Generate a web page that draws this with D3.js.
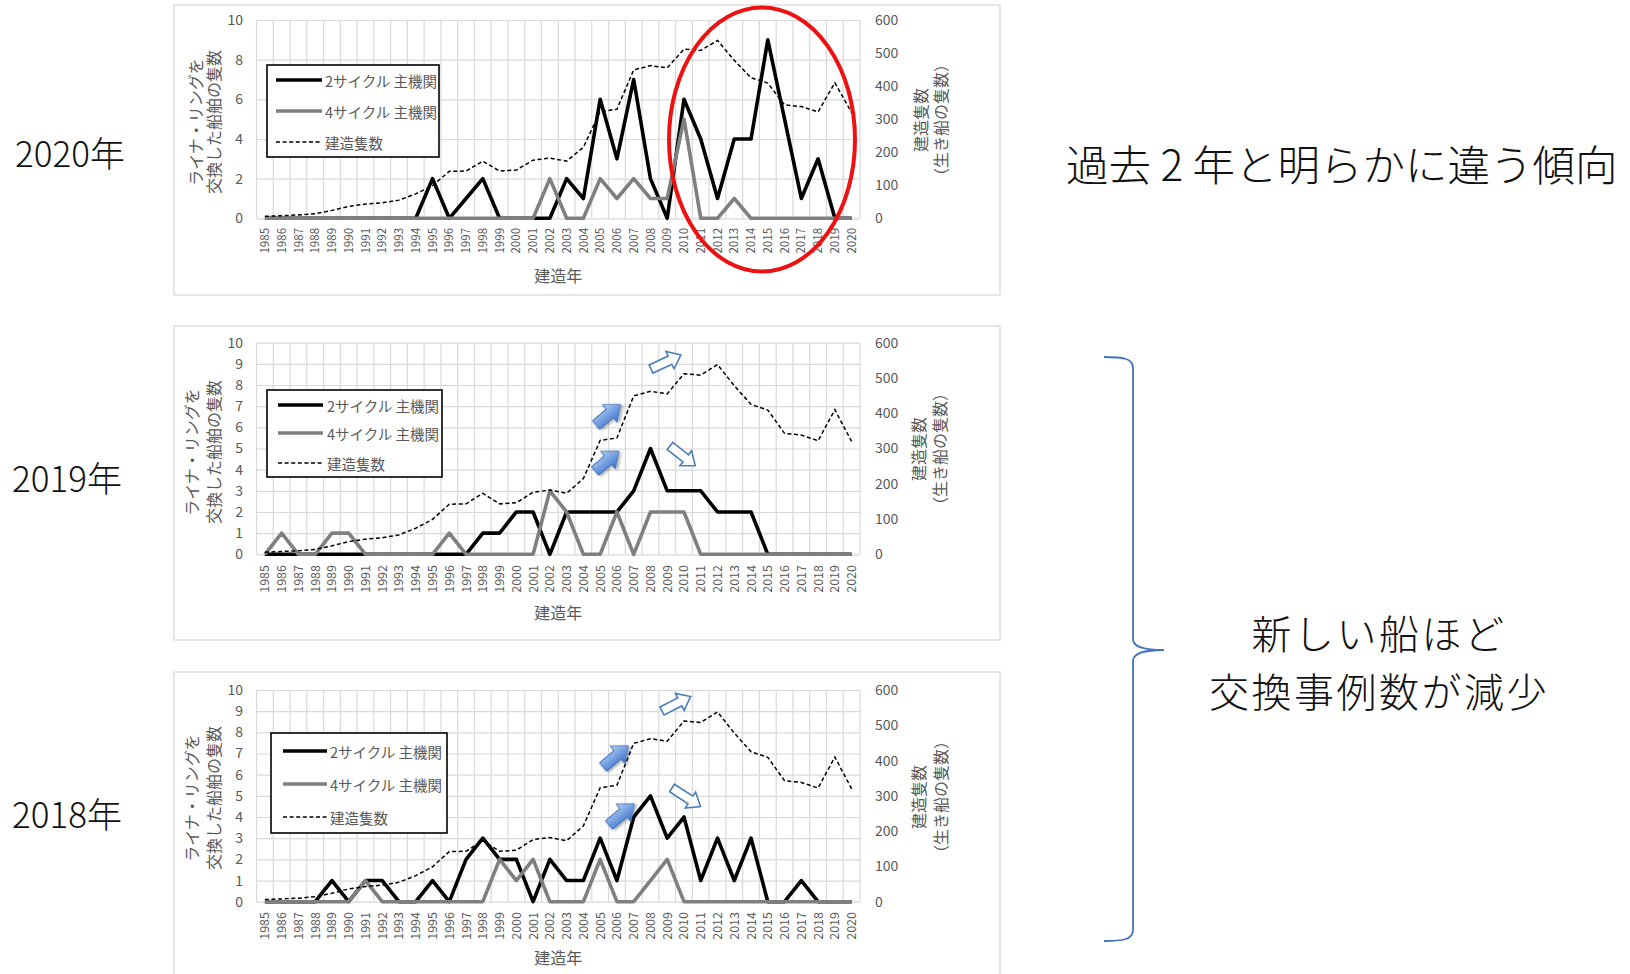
<!DOCTYPE html>
<html>
<head>
<meta charset="utf-8">
<script src="https://cdn.jsdelivr.net/npm/d3@7"></script>
<style>
  body { margin: 0; background: #fff; }
  svg { display: block; }
</style>
</head>
<body>
<svg id="chart" width="1630" height="974"></svg>
<script>
const years = [1985, 1986, 1987, 1988, 1989, 1990, 1991, 1992, 1993, 1994, 1995, 1996,
  1997, 1998, 1999, 2000, 2001, 2002, 2003, 2004, 2005, 2006, 2007, 2008,
  2009, 2010, 2011, 2012, 2013, 2014, 2015, 2016, 2017, 2018, 2019, 2020];

// 建造隻数 (生き船の隻数), right axis
const built = [6, 8, 10, 14, 24, 36, 43, 47, 55, 74, 99, 142,
  143, 173, 143, 146, 176, 182, 173, 215, 323, 330, 449, 462,
  455, 512, 508, 538, 478, 425, 409, 343, 338, 322, 410, 320];

// ライナ交換した船舶の隻数, left axis
const two2020 = [0, 0, 0, 0, 0, 0, 0, 0, 0, 0, 2, 0, 1, 2, 0, 0, 0, 0,
  2, 1, 6, 3, 7, 2, 0, 6, 4, 1, 4, 4, 9, 5, 1, 3, 0, 0];
const four2020 = [0, 0, 0, 0, 0, 0, 0, 0, 0, 0, 0, 0, 0, 0, 0, 0, 0, 2,
  0, 0, 2, 1, 2, 1, 1, 5, 0, 0, 1, 0, 0, 0, 0, 0, 0, 0];
const two2019 = [0, 0, 0, 0, 0, 0, 0, 0, 0, 0, 0, 0, 0, 1, 1, 2, 2, 0,
  2, 2, 2, 2, 3, 5, 3, 3, 3, 2, 2, 2, 0, 0, 0, 0, 0, 0];
const four2019 = [0, 1, 0, 0, 1, 1, 0, 0, 0, 0, 0, 1, 0, 0, 0, 0, 0, 3,
  2, 0, 0, 2, 0, 2, 2, 2, 0, 0, 0, 0, 0, 0, 0, 0, 0, 0];
const two2018 = [0, 0, 0, 0, 1, 0, 1, 1, 0, 0, 1, 0, 2, 3, 2, 2, 0, 2,
  1, 1, 3, 1, 4, 5, 3, 4, 1, 3, 1, 3, 0, 0, 1, 0, 0, 0];
const four2018 = [0, 0, 0, 0, 0, 0, 1, 0, 0, 0, 0, 0, 0, 0, 2, 1, 2, 0,
  0, 0, 2, 0, 0, 1, 2, 0, 0, 0, 0, 0, 0, 0, 0, 0, 0, 0];

const leftTicksWide = [0, 2, 4, 6, 8, 10];
const leftTicksFine = [0, 1, 2, 3, 4, 5, 6, 7, 8, 9, 10];
const rightTicks = [0, 100, 200, 300, 400, 500, 600];

const legendLabels = ["2サイクル 主機関", "4サイクル 主機関", "建造隻数"];
const leftTitle = ["ライナ・リングを", "交換した船舶の隻数"];
const rightTitle = ["建造隻数", "（生き船の隻数）"];
const xTitle = "建造年";
const panelNames = ["2020年", "2019年", "2018年"];
const noteTop = "過去 2 年と明らかに違う傾向";
const noteBottom = ["新しい船ほど", "交換事例数が減少"];

const FONT = "'Noto Sans CJK JP', 'Noto Sans', sans-serif";
const GREY_TEXT = "#595959";
const plotLeft = 256.5, plotRight = 860;

const panels = [
  { name: panelNames[0], two: two2020, four: four2020, ticks: leftTicksWide,
    box: [174, 5, 1000, 295], top: 20, bottom: 218.3, xFont: 11.5, xLabelTop: 228, xTitleY: 275,
    lt: [195, 213, 122], rt: [920, 940, 120],
    legend: { x: 267, y: 65, w: 172, h: 92, rows: [80, 111, 142], l1: 276, l2: 322, tx: 325 },
    label: [15, 151], arrows: [] },
  { name: panelNames[1], two: two2019, four: four2019, ticks: leftTicksFine,
    box: [174, 326, 1000, 640], top: 342.7, bottom: 554.3, xFont: 12.5, xLabelTop: 565, xTitleY: 612,
    lt: [191, 213, 452], rt: [918, 939, 449],
    legend: { x: 267, y: 390, w: 175, h: 87, rows: [405, 433, 463], l1: 278, l2: 323, tx: 327 },
    label: [12, 476],
    arrows: [
      { kind: "outline", x: 651, y: 369, a: -25, len: 33 },
      { kind: "fill", x: 596, y: 425, a: -40, len: 32 },
      { kind: "fill", x: 595, y: 471, a: -40, len: 31 },
      { kind: "outline", x: 670, y: 446, a: 38, len: 32 }
    ] },
  { name: panelNames[2], two: two2018, four: four2018, ticks: leftTicksFine,
    box: [174, 672, 1000, 985], top: 690, bottom: 901.7, xFont: 12.5, xLabelTop: 912, xTitleY: 957,
    lt: [191, 213, 798], rt: [918, 940, 797],
    legend: { x: 271, y: 733, w: 176, h: 100, rows: [751, 784, 817], l1: 283, l2: 327, tx: 330 },
    label: [12, 812],
    arrows: [
      { kind: "outline", x: 662, y: 711, a: -27, len: 32 },
      { kind: "fill", x: 603, y: 767, a: -40, len: 33 },
      { kind: "fill", x: 609, y: 825, a: -40, len: 33 },
      { kind: "outline", x: 672, y: 788, a: 33, len: 34 }
    ] }
];

const svg = d3.select("#chart").attr("font-family", FONT);

// gradient + shadow for the filled arrows
const defs = svg.append("defs");
const grad = defs.append("linearGradient").attr("id", "blueFill")
  .attr("x1", "0%").attr("y1", "0%").attr("x2", "0%").attr("y2", "100%");
grad.append("stop").attr("offset", "0%").attr("stop-color", "#b9d3f3");
grad.append("stop").attr("offset", "55%").attr("stop-color", "#6f9be0");
grad.append("stop").attr("offset", "100%").attr("stop-color", "#3d6fc2");
defs.append("filter").attr("id", "shadow").attr("x", "-30%").attr("y", "-30%")
  .attr("width", "160%").attr("height", "160%")
  .append("feDropShadow").attr("dx", 1).attr("dy", 2).attr("stdDeviation", 1.5)
  .attr("flood-color", "#000").attr("flood-opacity", 0.35);

function arrowPoints(len, shaft, head, headLen) {
  const b = len - headLen;
  return [[0, -shaft], [b, -shaft], [b, -head], [len, 0], [b, head], [b, shaft], [0, shaft]];
}

function drawPanel(p) {
  const g = svg.append("g");
  g.append("rect")
    .attr("x", p.box[0]).attr("y", p.box[1])
    .attr("width", p.box[2] - p.box[0]).attr("height", p.box[3] - p.box[1])
    .attr("fill", "#fff").attr("stroke", "#d9d9d9").attr("stroke-width", 1.3);

  const x = d3.scaleBand().domain(years).range([plotLeft, plotRight]);
  const y = d3.scaleLinear().domain([0, 10]).range([p.bottom, p.top]);
  const y2 = d3.scaleLinear().domain([0, 600]).range([p.bottom, p.top]);
  const cx = yr => x(yr) + x.bandwidth() / 2;

  // horizontal gridlines
  g.append("g")
    .attr("transform", `translate(${plotLeft},0)`)
    .call(d3.axisLeft(y).tickValues(p.ticks).tickSize(-(plotRight - plotLeft)).tickFormat(""))
    .call(a => a.select(".domain").remove())
    .selectAll("line").attr("stroke", "#d9d9d9").attr("stroke-width", 1.2);

  // vertical gridlines on the category boundaries
  g.append("g").selectAll("line")
    .data(years.map(yr => x(yr)).concat([x.range()[1]]))
    .join("line")
    .attr("x1", d => d).attr("x2", d => d)
    .attr("y1", p.top).attr("y2", p.bottom)
    .attr("stroke", "#d9d9d9").attr("stroke-width", 1.2);

  // left tick labels
  g.append("g")
    .attr("transform", `translate(${plotLeft},0)`)
    .call(d3.axisLeft(y).tickValues(p.ticks).tickSize(0).tickPadding(plotLeft - 243))
    .call(a => a.select(".domain").remove())
    .attr("font-family", FONT)
    .selectAll("text").attr("fill", GREY_TEXT).attr("font-size", 14);

  // right tick labels
  g.append("g")
    .attr("transform", `translate(${plotRight},0)`)
    .call(d3.axisRight(y2).tickValues(rightTicks).tickSize(0).tickPadding(875 - plotRight))
    .call(a => a.select(".domain").remove())
    .attr("font-family", FONT)
    .selectAll("text").attr("fill", GREY_TEXT).attr("font-size", 14);

  // year labels, rotated
  g.append("g")
    .attr("transform", `translate(0,${p.bottom})`)
    .call(d3.axisBottom(x).tickSize(0))
    .call(a => a.select(".domain").remove())
    .attr("font-family", FONT)
    .selectAll("text")
    .attr("fill", GREY_TEXT).attr("font-size", p.xFont)
    .attr("transform", "rotate(-90)")
    .attr("text-anchor", "end")
    .attr("x", -(p.xLabelTop - p.bottom)).attr("y", 0).attr("dy", "0.36em");

  const line = d3.line().x((d, i) => cx(years[i]));

  g.append("path").datum(p.two)
    .attr("d", line.y(d => y(d)))
    .attr("fill", "none").attr("stroke", "#000").attr("stroke-width", 3.6)
    .attr("stroke-linejoin", "round");
  g.append("path").datum(p.four)
    .attr("d", line.y(d => y(d)))
    .attr("fill", "none").attr("stroke", "#7f7f7f").attr("stroke-width", 3.6)
    .attr("stroke-linejoin", "round");
  g.append("path").datum(built)
    .attr("d", line.y(d => y2(d)))
    .attr("fill", "none").attr("stroke", "#000").attr("stroke-width", 1.5)
    .attr("stroke-dasharray", "4,2.6");

  // axis titles
  leftTitle.forEach((t, i) => {
    g.append("text")
      .attr("transform", `translate(${p.lt[i]},${p.lt[2]}) rotate(-90)`)
      .attr("text-anchor", "middle").attr("dominant-baseline", "central")
      .attr("font-size", 16).attr("fill", GREY_TEXT).text(t);
  });
  rightTitle.forEach((t, i) => {
    g.append("text")
      .attr("transform", `translate(${p.rt[i]},${p.rt[2]}) rotate(-90)`)
      .attr("text-anchor", "middle").attr("dominant-baseline", "central")
      .attr("font-size", 16).attr("fill", GREY_TEXT).text(t);
  });
  g.append("text")
    .attr("x", (plotLeft + plotRight) / 2).attr("y", p.xTitleY)
    .attr("text-anchor", "middle").attr("dominant-baseline", "central")
    .attr("font-size", 16).attr("fill", GREY_TEXT).text(xTitle);

  // legend
  const L = p.legend;
  g.append("rect").attr("x", L.x).attr("y", L.y).attr("width", L.w).attr("height", L.h)
    .attr("fill", "#fff").attr("stroke", "#000").attr("stroke-width", 1.6);
  const styles = [
    { c: "#000", w: 3.6, dash: null },
    { c: "#7f7f7f", w: 3.6, dash: null },
    { c: "#000", w: 1.5, dash: "4,2.6" }
  ];
  legendLabels.forEach((t, i) => {
    g.append("line").attr("x1", L.l1).attr("x2", L.l2)
      .attr("y1", L.rows[i]).attr("y2", L.rows[i])
      .attr("stroke", styles[i].c).attr("stroke-width", styles[i].w)
      .attr("stroke-dasharray", styles[i].dash);
    g.append("text").attr("x", L.tx).attr("y", L.rows[i])
      .attr("dominant-baseline", "central")
      .attr("font-size", 14.5).attr("fill", GREY_TEXT).text(t);
  });

  // arrows
  p.arrows.forEach(a => {
    const pts = a.kind === "fill" ? arrowPoints(a.len, 5.5, 11.5, 14) : arrowPoints(a.len, 4.5, 9.5, 12);
    g.append("polygon")
      .attr("points", pts.map(q => q.join(",")).join(" "))
      .attr("transform", `translate(${a.x},${a.y}) rotate(${a.a})`)
      .attr("fill", a.kind === "fill" ? "url(#blueFill)" : "#fff")
      .attr("stroke", a.kind === "fill" ? "#3f6fb8" : "#4a7ebb")
      .attr("stroke-width", a.kind === "fill" ? 1 : 1.6)
      .attr("stroke-linejoin", "miter")
      .attr("filter", a.kind === "fill" ? "url(#shadow)" : null);
  });

  // panel name on the left
  svg.append("text").attr("x", p.label[0]).attr("y", p.label[1])
    .attr("dominant-baseline", "central")
    .attr("font-size", 35).attr("font-weight", 300).attr("fill", "#111").text(p.name);
}

panels.forEach(drawPanel);

// red ellipse on the 2020 panel
svg.append("ellipse")
  .attr("cx", 762).attr("cy", 139.5).attr("rx", 93).attr("ry", 132)
  .attr("fill", "none").attr("stroke", "#ee1111").attr("stroke-width", 4);

// notes on the right
svg.append("text").attr("x", 1066).attr("y", 162)
  .attr("dominant-baseline", "central").attr("font-size", 42.5).attr("font-weight", 300)
  .attr("fill", "#111").text(noteTop);

noteBottom.forEach((t, i) => {
  svg.append("text").attr("x", 1379).attr("y", 632 + i * 58)
    .attr("text-anchor", "middle").attr("dominant-baseline", "central")
    .attr("font-size", 40).attr("font-weight", 300).attr("letter-spacing", 2.5)
    .attr("fill", "#111").text(t);
});

// brace
svg.append("path")
  .attr("d", "M1104,357 C1122,357 1133,358 1133,368 L1133,639 C1133,647 1143,650 1164,650 " +
    "C1143,650 1133,653 1133,661 L1133,930 C1133,940 1122,941 1104,941")
  .attr("fill", "none").attr("stroke", "#4472c4").attr("stroke-width", 1.8);
</script>
</body>
</html>
